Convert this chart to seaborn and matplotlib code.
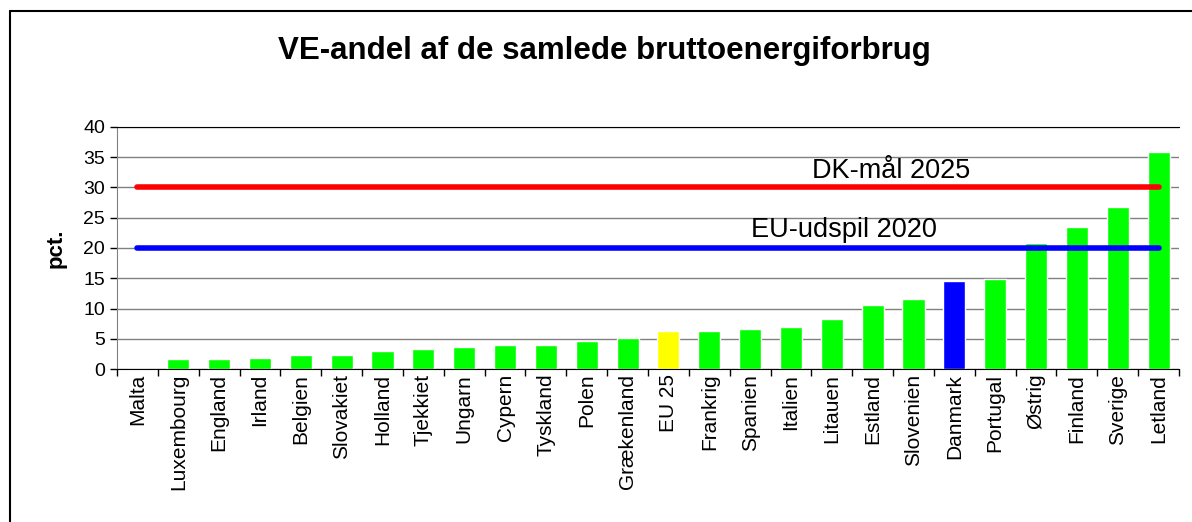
import matplotlib
matplotlib.use("Agg")
import matplotlib.pyplot as plt
from matplotlib.lines import Line2D
import seaborn as sns
import pandas as pd

# data
lande = ["Malta", "Luxembourg", "England", "Irland", "Belgien", "Slovakiet",
         "Holland", "Tjekkiet", "Ungarn", "Cypern", "Tyskland", "Polen",
         "Grækenland", "EU 25", "Frankrig", "Spanien", "Italien", "Litauen",
         "Estland", "Slovenien", "Danmark", "Portugal", "Østrig", "Finland",
         "Sverige", "Letland"]
ve_andel = [0.0, 1.6, 1.6, 1.9, 2.25, 2.25, 2.9, 3.25, 3.6, 3.9, 3.9, 4.55,
            5.2, 6.2, 6.2, 6.55, 6.9, 8.2, 10.6, 11.6, 14.6, 14.9, 20.8, 23.4,
            26.7, 35.8]
dk_maal = 30
eu_udspil = 20

farver = {l: "#00ff00" for l in lande}
farver["EU 25"] = "#ffff00"
farver["Danmark"] = "#0000ff"

df = pd.DataFrame({"land": lande, "andel": ve_andel})

sns.set_style("white")
plt.rcParams["font.family"] = ["Liberation Sans", "DejaVu Sans"]
plt.rcParams.update({"text.color": "black", "axes.labelcolor": "black",
                     "xtick.color": "black", "ytick.color": "black"})

fig = plt.figure(figsize=(11.92, 5.22), dpi=100)
ax = fig.add_axes([117 / 1192, 1 - 369 / 522, (1179 - 117) / 1192, (369 - 127) / 522])

sns.barplot(data=df, x="land", y="andel", hue="land", palette=farver,
            width=0.54, legend=False, saturation=1, ax=ax)

# målsætninger som vandrette linjer
ax.plot([0, len(lande) - 1], [dk_maal, dk_maal], color="#ff0000", lw=4,
        solid_capstyle="round", zorder=3)
ax.plot([0, len(lande) - 1], [eu_udspil, eu_udspil], color="#0000ff", lw=4,
        solid_capstyle="round", zorder=3)
ax.text(18.45, 32.7, "DK-mål 2025", fontsize=19.5, ha="center", va="center")
ax.text(17.3, 22.9, "EU-udspil 2020", fontsize=19.5, ha="center", va="center")

ax.set_ylim(0, 40)
ax.set_xlim(-0.5, len(lande) - 0.5)
ax.set_yticks(range(0, 41, 5))
ax.yaxis.grid(True, color="#808080", lw=1)
ax.set_axisbelow(True)

ax.set_xlabel("")
ax.set_ylabel("pct.", fontsize=16, fontweight="bold", labelpad=12)
ax.tick_params(axis="y", labelsize=14, length=5, width=1, left=True)
ax.tick_params(axis="x", labelsize=15, rotation=90, length=0)
ax.set_xticks([i - 0.5 for i in range(len(lande) + 1)], minor=True)
ax.tick_params(axis="x", which="minor", length=5, width=1, bottom=True)

ax.spines["right"].set_visible(False)
ax.spines["top"].set_color("black")
ax.spines["left"].set_color("#808080")
ax.spines["bottom"].set_color("black")

fig.text(0.507, 0.902, "VE-andel af de samlede bruttoenergiforbrug",
         fontsize=22.5, fontweight="bold", ha="center", va="center")

# ramme om diagrammet (kun venstre og top synlig)
fig.add_artist(Line2D([10 / 1192, 10 / 1192], [0, 1 - 11 / 522], color="black", lw=1.5))
fig.add_artist(Line2D([10 / 1192, 1], [1 - 11 / 522, 1 - 11 / 522], color="black", lw=1.5))

fig.savefig("out.png", dpi=100)
